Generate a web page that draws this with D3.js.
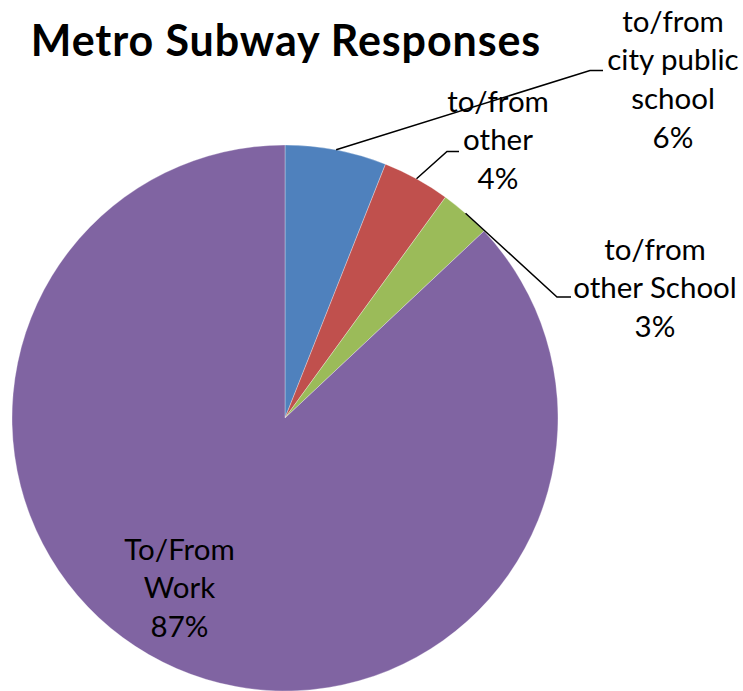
<!DOCTYPE html>
<html>
<head>
<meta charset="utf-8">
<script src="https://cdn.jsdelivr.net/npm/d3@7"></script>
<style>
  html, body { margin: 0; padding: 0; background: #ffffff; }
  svg { display: block; }
  text { font-family: Lato, "Open Sans", sans-serif; fill: #000; }
</style>
</head>
<body>
<svg id="chart" width="743" height="691"></svg>
<script>
// Trip purposes and their shares of responses (%)
const categories = ["to/from city public school", "to/from other", "to/from other School", "To/From Work"];
const shares = [6, 4, 3, 87];
const labelLines = [
  ["to/from", "city public", "school", "6%"],
  ["to/from", "other", "4%"],
  ["to/from", "other School", "3%"],
  ["To/From", "Work", "87%"]
];
const colors = ["#4F81BD", "#C0504D", "#9BBB59", "#8064A2"];
const title = "Metro Subway Responses";

const W = 743, H = 691;
const cx = 285, cy = 418, R = 273;
const labelSize = 29.5, lineGap = 38.7;

// label blocks: centre x, first baseline y, and leader elbow (null = inside label)
const labelLayout = [
  { x: 673, y: 31.5, elbow: [590, 70.5], end: 603 },
  { x: 498, y: 111.5, elbow: [447, 151.5], end: 459 },
  { x: 655, y: 259.5, elbow: [557, 297], end: 571 },
  { x: 179.5, y: 559.5, elbow: null }
];

const svg = d3.select("#chart");

svg.append("text")
  .attr("x", 286).attr("y", 56)
  .attr("text-anchor", "middle")
  .style("font-size", "43px")
  .style("letter-spacing", "0.9px")
  .style("font-weight", "700")
  .text(title);

const pie = d3.pie().sort(null).value(d => d)(shares);
const arc = d3.arc().innerRadius(0).outerRadius(R);

const g = svg.append("g").attr("transform", `translate(${cx},${cy})`);
g.selectAll("path.slice")
  .data(pie)
  .join("path")
  .attr("class", "slice")
  .attr("d", arc)
  .attr("fill", (d, i) => colors[i])
  .attr("stroke", "#ffffff")
  .attr("stroke-opacity", 0.5)
  .attr("stroke-width", 0.6);

// leader lines from each slice's outer edge to its label
pie.forEach((d, i) => {
  const L = labelLayout[i];
  if (!L.elbow) return;
  const a = (d.startAngle + d.endAngle) / 2;
  const sx = cx + R * Math.sin(a), sy = cy - R * Math.cos(a);
  svg.append("polyline")
    .attr("points", `${sx},${sy} ${L.elbow[0]},${L.elbow[1]} ${L.end},${L.elbow[1]}`)
    .attr("fill", "none")
    .attr("stroke", "#000")
    .attr("stroke-width", 1.5);
});

labelLines.forEach((lines, i) => {
  const L = labelLayout[i];
  const t = svg.append("text")
    .attr("text-anchor", "middle")
    .style("font-size", labelSize + "px");
  lines.forEach((s, j) => {
    t.append("tspan").attr("x", L.x).attr("y", L.y + j * lineGap).text(s);
  });
});
</script>
</body>
</html>
